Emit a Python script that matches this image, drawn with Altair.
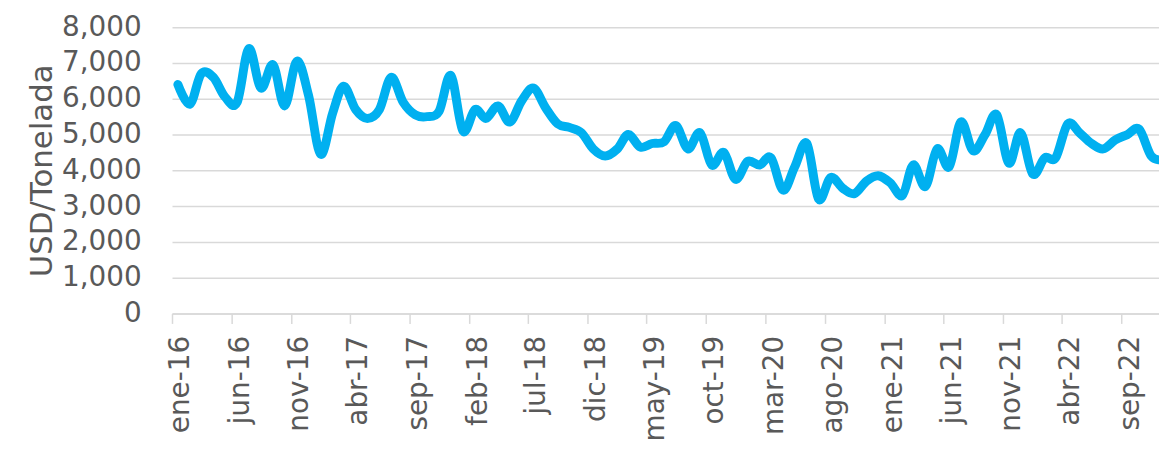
import altair as alt
import pandas as pd

# Monthly price, USD per tonne, ene-16 .. dic-22
precios = [
    6400, 5850, 6700, 6600, 6050, 5900, 7400, 6300, 6950, 5800, 7050, 6100,   # 2016
    4450, 5600, 6350, 5700, 5450, 5700, 6600, 5900, 5550, 5500, 5650, 6650,   # 2017
    5100, 5700, 5450, 5800, 5350, 5950, 6300, 5750, 5300, 5200, 5050, 4600,   # 2018
    4400, 4600, 5000, 4650, 4750, 4800, 5250, 4600, 5050, 4150, 4500, 3750,   # 2019
    4250, 4150, 4350, 3450, 4100, 4750, 3200, 3800, 3500, 3350, 3700, 3850,   # 2020
    3650, 3300, 4150, 3550, 4600, 4100, 5350, 4550, 5000, 5550, 4200, 5050,   # 2021
    3900, 4350, 4350, 5300, 5050, 4750, 4600, 4850, 5000, 5150, 4400, 4300,   # 2022
]
meses_es = ["ene", "feb", "mar", "abr", "may", "jun",
            "jul", "ago", "sep", "oct", "nov", "dic"]
y_ticks = [0, 1000, 2000, 3000, 4000, 5000, 6000, 7000, 8000]

# each monthly value sits in the middle of its month
fechas = pd.date_range("2016-01-01", periods=len(precios), freq="MS") + pd.Timedelta(days=15)
df = pd.DataFrame({"fecha": fechas, "precio": precios})

tick_fechas = [alt.DateTime(year=2016 + m // 12, month=m % 12 + 1, date=1)
               for m in range(0, 81, 5)]

label_expr = ("['" + "','".join(meses_es) + "'][month(datum.value)] + '-' + timeFormat(datum.value, '%y')")

FONT = "DejaVu Sans"
GREY = "#595959"
GRID = "#D9D9D9"

chart = alt.Chart(df).mark_line(
    color="#00B0F0", strokeWidth=9, interpolate="cardinal",
    clip=True, strokeCap="round", strokeJoin="round"
).encode(
    x=alt.X("fecha:T",
            scale=alt.Scale(domain=[alt.DateTime(year=2016, month=1, date=1),
                                    alt.DateTime(year=2022, month=12, date=6)],
                            nice=False),
            axis=alt.Axis(values=tick_fechas, labelExpr=label_expr, title=None,
                          grid=False, labelAngle=270, labelAlign="right",
                          labelBaseline="middle", labelOffset=9, labelPadding=12,
                          labelFont=FONT, labelFontSize=28, labelColor=GREY,
                          labelOverlap=False, labelFlush=False,
                          domainColor=GRID, domainWidth=1.5,
                          tickColor=GRID, tickWidth=1.5, tickSize=10)),
    y=alt.Y("precio:Q",
            scale=alt.Scale(domain=[0, 8000], nice=False),
            axis=alt.Axis(values=y_ticks, format=",.0f", title="USD/Tonelada",
                          grid=True, gridColor=GRID, gridWidth=1.5,
                          domain=False, ticks=False, tickSize=0, labelPadding=31,
                          labelFont=FONT, labelFontSize=28, labelColor=GREY,
                          titleFont=FONT, titleFontSize=31, titleColor=GREY,
                          titleFontWeight="normal", titleAngle=270,
                          titleAlign="center", titleBaseline="alphabetic",
                          titleX=-121, titleY=144)),
).properties(
    width=993, height=288,
    autosize=alt.AutoSizeParams(type="none"),
    padding={"left": 165, "top": 18, "right": 0, "bottom": 130},
    background="white",
).configure_view(stroke=None)

chart.save("out.html", embed_options={"renderer": "svg", "actions": False})
